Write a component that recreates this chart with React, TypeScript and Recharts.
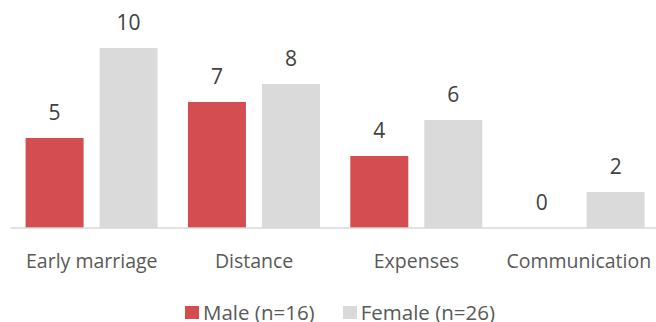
import React from "react";
import { BarChart, Bar, XAxis, YAxis, LabelList } from "recharts";

const categories = ["Early marriage", "Distance", "Expenses", "Communication"];
const maleValues = [5, 7, 4, 0];
const femaleValues = [10, 8, 6, 2];
const seriesNames = ["Male (n=16)", "Female (n=26)"];

const RED = "#d44d50";
const GRAY = "#dadada";
const FONT = "'Open Sans', sans-serif";

const rows = categories.map((c, i) => ({
  name: c,
  male: maleValues[i],
  female: femaleValues[i],
}));

function LegendRow() {
  const items = [
    { label: seriesNames[0], color: RED },
    { label: seriesNames[1], color: GRAY },
  ];
  return (
    <div
      style={{
        position: "absolute",
        left: 0,
        top: 304,
        width: 680,
        display: "flex",
        justifyContent: "center",
        gap: 28,
        fontFamily: FONT,
        fontSize: 20.5,
        lineHeight: "17px",
        color: "#595959",
      }}
    >
      {items.map((it) => (
        <div key={it.label} style={{ display: "flex", alignItems: "center" }}>
          <span
            style={{
              display: "inline-block",
              width: 14,
              height: 13,
              background: it.color,
              marginRight: 4,
            }}
          />
          {it.label}
        </div>
      ))}
    </div>
  );
}

export default function App() {
  return (
    <div
      style={{
        position: "absolute",
        left: 0,
        top: 0,
        width: 656,
        height: 322,
        overflow: "hidden",
        background: "#fff",
      }}
    >
      <BarChart
        width={660}
        height={300}
        data={rows}
        margin={{ top: 12, right: 0, left: 10.6, bottom: 0 }}
        barSize={58}
        barGap={16}
      >
        <XAxis
          dataKey="name"
          axisLine={{ stroke: "#d9d9d9", strokeWidth: 1.5 }}
          tickLine={false}
          tick={{ fill: "#595959", fontSize: 19.5, fontFamily: FONT }}
          tickMargin={20}
          height={72}
          interval={0}
        />
        <YAxis hide domain={[0, 12]} />
        <Bar dataKey="male" fill={RED} minPointSize={0.01} isAnimationActive={false}>
          <LabelList
            dataKey="male"
            position="top"
            offset={18}
            fill="#404040"
            fontSize={21}
            fontFamily={FONT}
          />
        </Bar>
        <Bar dataKey="female" fill={GRAY} isAnimationActive={false}>
          <LabelList
            dataKey="female"
            position="top"
            offset={18}
            fill="#404040"
            fontSize={21}
            fontFamily={FONT}
          />
        </Bar>
      </BarChart>
      <LegendRow />
    </div>
  );
}
